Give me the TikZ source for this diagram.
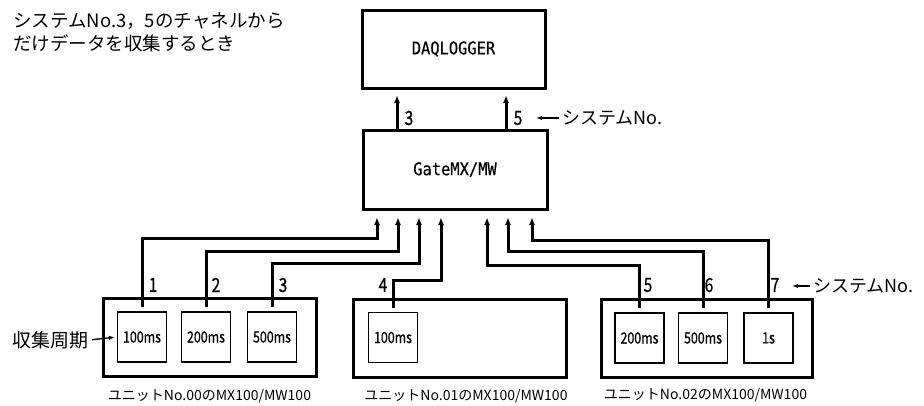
\documentclass[tikz,border=0pt]{standalone}
\usepackage{fontspec}
\setmainfont{Noto Sans CJK JP}
\newfontfamily\dqcond[FakeStretch=0.8,FakeBold=0.6]{Noto Sans CJK JP}
\newfontfamily\dqmono[FakeStretch=0.88,FakeBold=0.5]{DejaVu Sans Mono}
\usetikzlibrary{arrows.meta}
\begin{document}
\begin{tikzpicture}[x=1pt,y=-1pt,
  bigbox/.style={draw,line width=3pt,inner sep=0pt},
  cell/.style={draw,line width=1.4pt,inner sep=0pt,minimum width=49pt,minimum height=50pt,font=\dqcond\fontsize{15.5}{15.5}\selectfont},
  conn/.style={line width=3pt,-{Latex[length=8pt,width=6pt]}},
  small/.style={line width=1.4pt,-{Latex[length=6pt,width=4.5pt]}},
  num/.style={inner sep=0pt,font=\dqcond\fontsize{19.5}{19.5}\selectfont},
  jp/.style={inner sep=0pt,font=\fontsize{18}{18}\selectfont},
  unitlbl/.style={inner sep=0pt,font=\fontsize{14}{14}\selectfont}
]
\useasboundingbox (0,0) rectangle (924,405);

% title text
\node[inner sep=0pt,anchor=west,align=left,font=\fontsize{18.5}{23}\selectfont] (title) at (13,32.5)
  {システムNo.3，5のチャネルから\\だけデータを収集するとき};

% top boxes
\node[bigbox,minimum width=183pt,minimum height=78pt,font=\dqmono\fontsize{17.5}{17.5}\selectfont] (daq) at (453.5,49) {DAQLOGGER};
\node[bigbox,minimum width=184pt,minimum height=79pt,font=\dqmono\fontsize{17.5}{17.5}\selectfont] (gate) at (455,169.5) {GateMX/MW};

% unit boxes
\node[bigbox,minimum width=213pt,minimum height=78pt] (unitA) at (209.5,337) {};
\node[bigbox,minimum width=213pt,minimum height=78pt] (unitB) at (459.5,338) {};
\node[bigbox,minimum width=211pt,minimum height=78pt] (unitC) at (706.5,338) {};

% cells
\node[cell] (a1) at (142,337) {100ms};
\node[cell] (a2) at (206,337) {200ms};
\node[cell] (a3) at (272,337) {500ms};
\node[cell] (b1) at (393,337.5) {100ms};
\node[cell] (c1) at (639.5,338) {200ms};
\node[cell] (c2) at (703,338) {500ms};
\node[cell] (c3) at (768.5,338) {1s};

% unit labels
\node[unitlbl] (lblA) at (209.5,396) {ユニットNo.00のMX100/MW100};
\node[unitlbl] (lblB) at (466,396) {ユニットNo.01のMX100/MW100};
\node[unitlbl] (lblC) at (705.5,395) {ユニットNo.02のMX100/MW100};

% collection period label
\node[inner sep=0pt,anchor=east,font=\fontsize{19}{19}\selectfont] (period) at (89,340) {収集周期};
\draw[small,shorten <=3pt,shorten >=2pt] (period.east) -- (a1.west);

% top connectors
\coordinate (u3) at (397,95);
\coordinate (u5) at (506,95);
\draw[conn] (gate.north -| u3) -- (u3);
\draw[conn] (gate.north -| u5) -- (u5);
\node[num] (n3top) at (409,118) {3};
\node[num] (n5top) at (518,118) {5};
\node[jp,anchor=west] (sysA) at (562,118) {システムNo.};
\coordinate (sysAtip) at (536,118);
\draw[small,shorten <=3pt] (sysA.west) -- (sysAtip);

% bottom connectors: tips at gate
\coordinate (t1) at (377,217);
\coordinate (t2) at (398,217);
\coordinate (t3) at (419,217);
\coordinate (t4) at (441,217);
\coordinate (t5) at (487,217);
\coordinate (t6) at (508,217);
\coordinate (t7) at (532,217);
% bends
\coordinate (h1) at (377,238);
\coordinate (h2) at (398,251);
\coordinate (h3) at (419,263);
\coordinate (h4) at (441,280);
\coordinate (h5) at (487,265);
\coordinate (h6) at (508,251);
\coordinate (h7) at (532,240);

\draw[conn] ([yshift=4pt]a1.north) |- (h1) -- (t1);
\draw[conn] ([yshift=4pt]a2.north) |- (h2) -- (t2);
\draw[conn] ([yshift=4pt]a3.north) |- (h3) -- (t3);
\draw[conn] ([yshift=4pt]b1.north) |- (h4) -- (t4);
\draw[conn] ([yshift=4pt]c1.north) |- (h5) -- (t5);
\draw[conn] ([yshift=4pt]c2.north) |- (h6) -- (t6);
\draw[conn] ([yshift=4pt]c3.north) |- (h7) -- (t7);

% system numbers
\node[num] (n1) at (153,285) {1};
\node[num] (n2) at (216,285) {2};
\node[num] (n3) at (283,285) {3};
\node[num] (n4) at (383,285) {4};
\node[num] (n5) at (648,285) {5};
\node[num] (n6) at (709,285) {6};
\node[num] (n7) at (775,285) {7};

\node[jp,anchor=west] (sysB) at (813,286) {システムNo.};
\coordinate (sysBtip) at (792,286);
\draw[small,shorten <=3pt] (sysB.west) -- (sysBtip);
\end{tikzpicture}
\end{document}
